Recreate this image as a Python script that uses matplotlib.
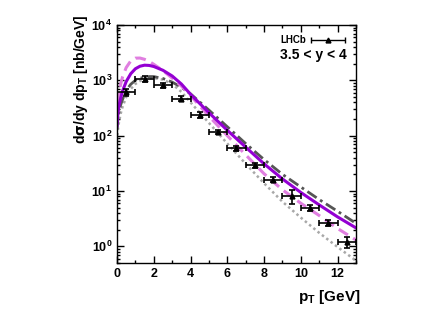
import numpy as np
import matplotlib
matplotlib.use('Agg')
import matplotlib.pyplot as plt
from matplotlib.ticker import MultipleLocator, LogLocator, NullFormatter

plt.rcParams['font.family'] = ['Liberation Sans', 'DejaVu Sans']
plt.rcParams['font.weight'] = 'bold'
plt.rcParams['mathtext.default'] = 'bf'

# LHCb data, 3.5 < y < 4
pt_data = [0.5, 1.5, 2.5, 3.5, 4.5, 5.5, 6.5, 7.5, 8.5, 9.5, 10.5, 11.5, 12.5]
xs_data = [610, 1070, 815, 465, 240, 117, 59, 29, 16, 8.1, 4.9, 2.66, 1.21]
rel_err = [0.14, 0.12, 0.12, 0.10, 0.12, 0.10, 0.10, 0.10, 0.11, 0.28, 0.12, 0.13, 0.24]

# model curves
pt_curve = [0, 0.05, 0.1, 0.2, 0.3, 0.5, 0.75, 1, 1.25, 1.5, 1.75, 2, 2.5, 3, 3.5, 4,
            5, 6, 7, 8, 9, 10, 11, 12, 13]
solid_purple = [150, 250, 340, 480, 640, 950, 1320, 1620, 1800, 1880, 1860, 1780, 1520,
                1200, 860, 560, 260, 125, 62, 31, 16.5, 9.4, 5.6, 3.4, 2.15]
dashed_violet = [190, 380, 560, 850, 1150, 1700, 2250, 2520, 2530, 2400, 2200, 1950, 1500,
                 1100, 790, 530, 225, 100, 45, 20.5, 10.5, 6.0, 3.6, 2.1, 1.3]
dashdot_gray = [130, 200, 260, 360, 450, 660, 850, 1000, 1090, 1150, 1170, 1170, 1080,
                930, 750, 570, 290, 145, 72, 37, 20, 11.8, 7.0, 4.3, 2.6]
dotted_gray = [80, 130, 170, 250, 330, 500, 700, 860, 970, 1050, 1090, 1100, 1030,
               860, 620, 400, 170, 72, 31, 13.8, 6.4, 3.3, 1.75, 0.97, 0.55]

fig = plt.figure(figsize=(4.42, 3.09), dpi=100)
ax = fig.add_axes([0.2647, 0.149, 0.5407, 0.770])

ax.plot(pt_curve, dotted_gray, color='#a8a8a8', ls=(0, (1, 1.2)), lw=1.8)
ax.plot(pt_curve, dashdot_gray, color='#555555', ls=(0, (4, 1.5, 1, 1.5)), lw=2)
ax.plot(pt_curve, dashed_violet, color='#e07ee0', ls=(0, (3.5, 2)), lw=2.2)
ax.plot(pt_curve, solid_purple, color='#9400d3', lw=2.2)

yerr = np.array(xs_data) * np.array(rel_err)
ax.errorbar(pt_data, xs_data, xerr=0.5, yerr=yerr, fmt='^', color='black', ms=3.5,
            elinewidth=1.2, capsize=2, capthick=1.2, zorder=5)

ax.set_yscale('log')
ax.set_xlim(0, 13)
ax.set_ylim(0.5, 1e4)
ax.xaxis.set_major_locator(MultipleLocator(2))
ax.xaxis.set_minor_locator(MultipleLocator(1))
ax.yaxis.set_major_locator(LogLocator(base=10, numticks=10))
ax.yaxis.set_minor_locator(LogLocator(base=10, subs=np.arange(2, 10), numticks=20))
ax.yaxis.set_minor_formatter(NullFormatter())
ax.tick_params(which='both', direction='in', top=True, right=True, labelsize=9, width=1)
ax.tick_params(which='major', length=5)
ax.tick_params(which='minor', length=2.5)
for sp in ax.spines.values():
    sp.set_linewidth(1)

ax.set_ylabel(r'd$\sigma$/dy dp$_\mathregular{T}$ [nb/GeV]', fontsize=10, fontweight='bold')
ax.yaxis.set_label_coords(-0.115, 0.77)
ax.set_xlabel(r'p$_\mathregular{T}$ [GeV]', fontsize=11, fontweight='bold')
ax.xaxis.set_label_coords(1.02, -0.105)
ax.xaxis.label.set_horizontalalignment('right')

# legend entry
ax.text(0.79, 0.938, 'LHCb', transform=ax.transAxes, fontsize=7, ha='right', va='center',
        fontweight='bold')
ax.errorbar([0.882], [0.938], xerr=[[0.071], [0.071]], fmt='^', color='black', ms=3.5,
            elinewidth=1, capsize=2, transform=ax.transAxes, clip_on=False)
ax.text(0.96, 0.875, '3.5 < y < 4', transform=ax.transAxes, fontsize=10, ha='right',
        va='center', fontweight='bold')

fig.savefig('out.png', dpi=100)
